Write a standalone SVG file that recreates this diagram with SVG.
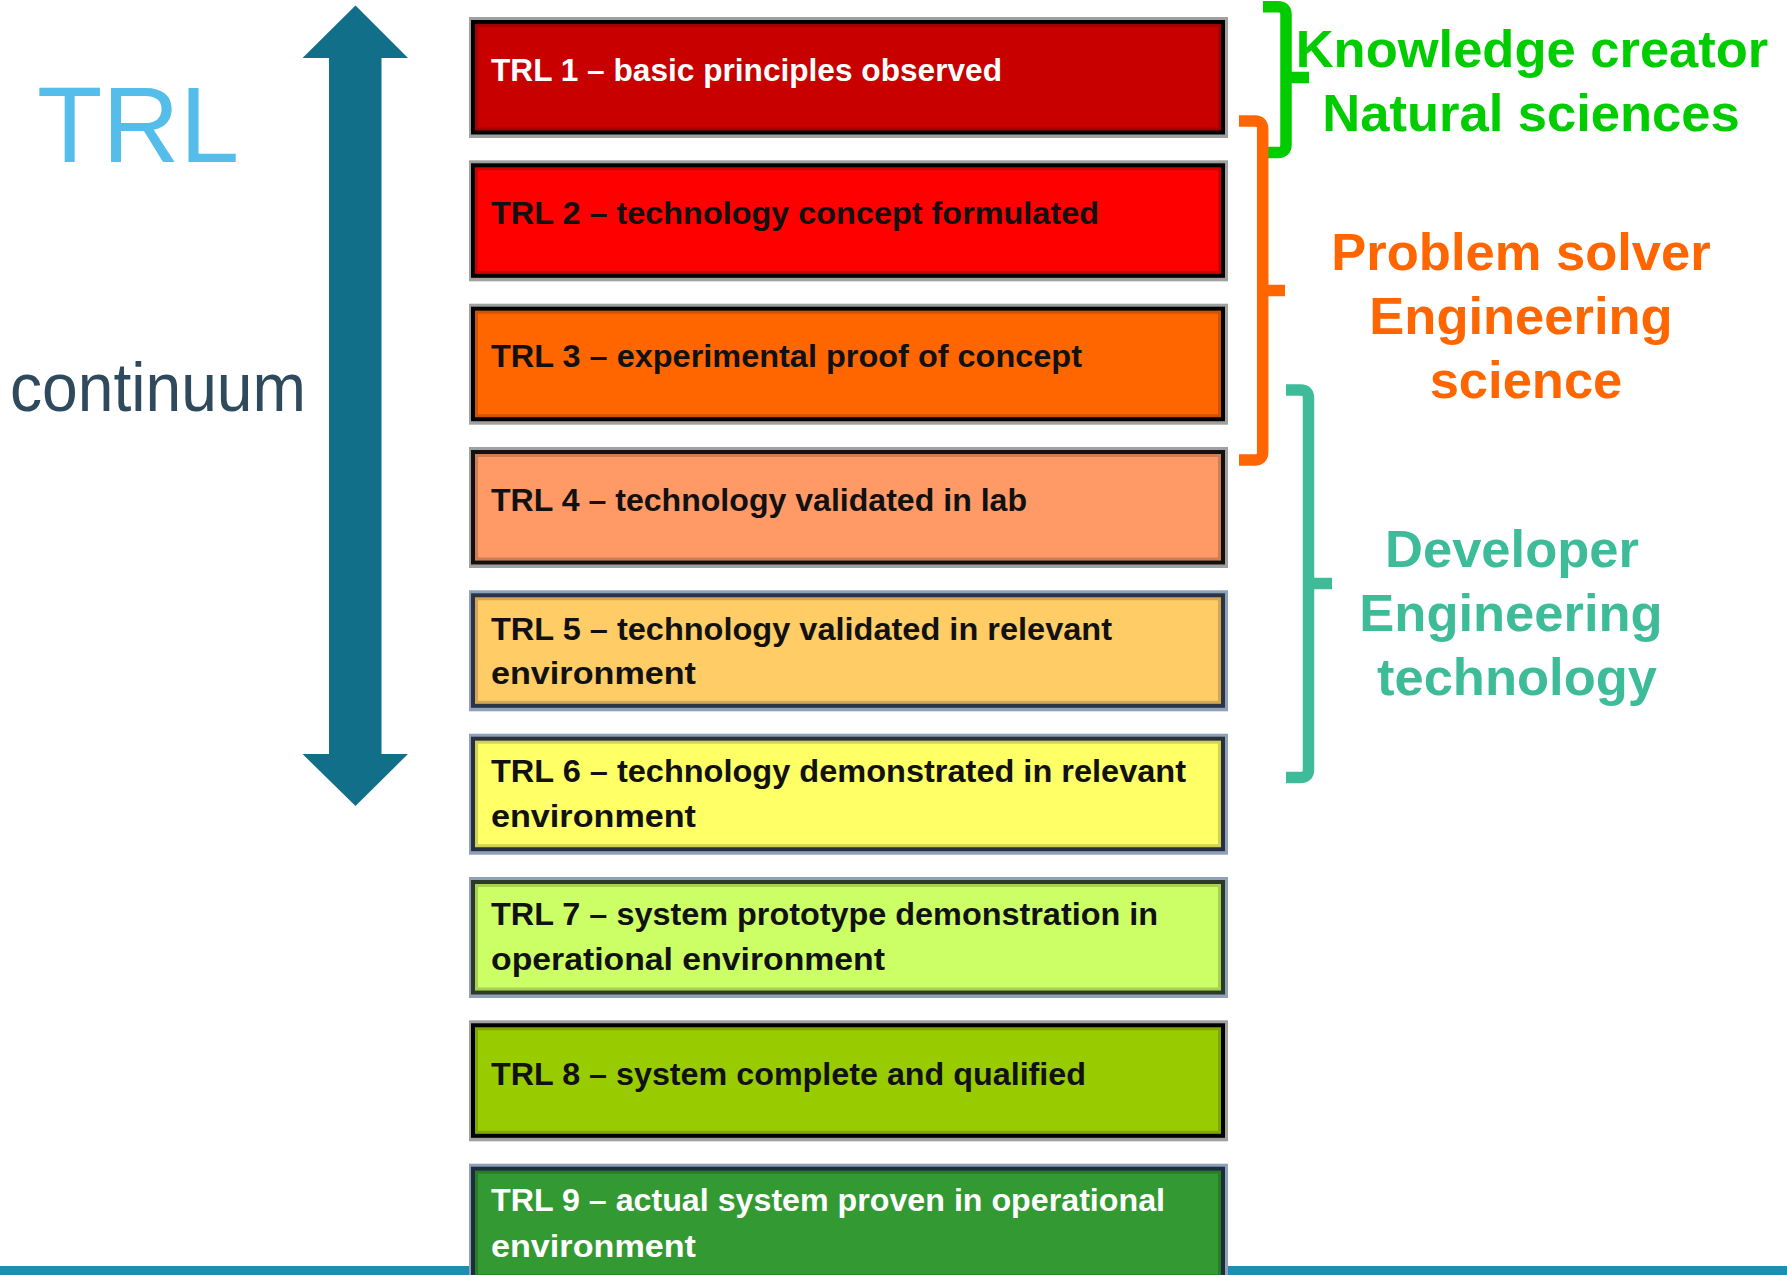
<svg xmlns="http://www.w3.org/2000/svg" width="1787" height="1275" viewBox="0 0 1787 1275">
<style>
.halo-g{fill:#a0a0a0}
.halo-b{fill:#8ea0ba}
.box{stroke-width:4}
.inner{fill:none;stroke:rgba(0,0,0,0.18);stroke-width:3}
.lbl{font-family:"Liberation Sans Narrow","Liberation Sans",Arial,sans-serif;font-weight:bold;font-size:31px}
.dk{fill:#111111}
.wt{fill:#ffffff}
.side{font-family:"Liberation Sans",Arial,sans-serif;font-weight:bold;font-size:52.5px;text-anchor:middle}
.brace{fill:none;stroke-width:11.5;stroke-linecap:butt;stroke-linejoin:round}
</style>
<rect x="0" y="0" width="1787" height="1275" fill="#ffffff"/>

<g id="title">
<text x="37" y="161.7" font-family="'Liberation Sans',Arial,sans-serif" font-size="107" fill="#55bdea">TRL</text>
<text x="10" y="410.7" font-family="'Liberation Sans',Arial,sans-serif" font-size="68" fill="#2f4a5c" textLength="296" lengthAdjust="spacingAndGlyphs">continuum</text>
</g>

<g id="scale-arrow">
<polygon points="355.5,5.5 408,58 381.5,58 381.5,754 408,754 355.5,806 302.5,754 329,754 329,58 302.5,58" fill="#126f8a"/>
</g>

<rect id="bottom-bar" x="0" y="1266" width="1787" height="9" fill="#1e8db3"/>

<g id="trl1">
<rect class="halo-g" x="469" y="17" width="759" height="121"/>
<rect class="box" x="473" y="22" width="750" height="110.5" fill="#c80000" stroke="#000"/>
<rect class="inner" x="476.5" y="25.5" width="743" height="103.5"/>
<text class="lbl wt" x="491" y="80.5" textLength="511" lengthAdjust="spacingAndGlyphs">TRL 1 – basic principles observed</text>
</g>

<g id="trl2">
<rect class="halo-g" x="469" y="160.3" width="759" height="121"/>
<rect class="box" x="473" y="165.3" width="750" height="110.5" fill="#ff0000" stroke="#000"/>
<rect class="inner" x="476.5" y="168.8" width="743" height="103.5"/>
<text class="lbl dk" x="491" y="223.8" textLength="608" lengthAdjust="spacingAndGlyphs">TRL 2 – technology concept formulated</text>
</g>

<g id="trl3">
<rect class="halo-g" x="469" y="303.7" width="759" height="121"/>
<rect class="box" x="473" y="308.7" width="750" height="110.5" fill="#ff6600" stroke="#000"/>
<rect class="inner" x="476.5" y="312.2" width="743" height="103.5"/>
<text class="lbl dk" x="491" y="367.2" textLength="591" lengthAdjust="spacingAndGlyphs">TRL 3 – experimental proof of concept</text>
</g>

<g id="trl4">
<rect class="halo-g" x="469" y="447" width="759" height="121"/>
<rect class="box" x="473" y="452" width="750" height="110.5" fill="#ff9966" stroke="#111"/>
<rect class="inner" x="476.5" y="455.5" width="743" height="103.5"/>
<text class="lbl dk" x="491" y="510.5" textLength="536" lengthAdjust="spacingAndGlyphs">TRL 4 – technology validated in lab</text>
</g>

<g id="trl5">
<rect class="halo-b" x="469" y="590.3" width="759" height="121"/>
<rect class="box" x="473" y="595.3" width="750" height="110.5" fill="#ffcc66" stroke="#2a3445"/>
<rect class="inner" x="476.5" y="598.8" width="743" height="103.5"/>
<text class="lbl dk" x="491" y="639.5" textLength="621" lengthAdjust="spacingAndGlyphs">TRL 5 – technology validated in relevant</text>
<text class="lbl dk" x="491" y="684" textLength="205" lengthAdjust="spacingAndGlyphs">environment</text>
</g>

<g id="trl6">
<rect class="halo-b" x="469" y="733.7" width="759" height="121"/>
<rect class="box" x="473" y="738.7" width="750" height="110.5" fill="#ffff66" stroke="#283040"/>
<rect class="inner" x="476.5" y="742.2" width="743" height="103.5"/>
<text class="lbl dk" x="491" y="782" textLength="695" lengthAdjust="spacingAndGlyphs">TRL 6 – technology demonstrated in relevant</text>
<text class="lbl dk" x="491" y="827" textLength="205" lengthAdjust="spacingAndGlyphs">environment</text>
</g>

<g id="trl7">
<rect class="halo-b" x="469" y="877" width="759" height="121"/>
<rect class="box" x="473" y="882" width="750" height="110.5" fill="#ccff66" stroke="#2c3a2c"/>
<rect class="inner" x="476.5" y="885.5" width="743" height="103.5"/>
<text class="lbl dk" x="491" y="925" textLength="667" lengthAdjust="spacingAndGlyphs">TRL 7 – system prototype demonstration in</text>
<text class="lbl dk" x="491" y="970" textLength="394" lengthAdjust="spacingAndGlyphs">operational environment</text>
</g>

<g id="trl8">
<rect class="halo-g" x="469" y="1020.3" width="759" height="121"/>
<rect class="box" x="473" y="1025.3" width="750" height="110.5" fill="#99cc00" stroke="#000"/>
<rect class="inner" x="476.5" y="1028.8" width="743" height="103.5"/>
<text class="lbl dk" x="491" y="1085" textLength="595" lengthAdjust="spacingAndGlyphs">TRL 8 – system complete and qualified</text>
</g>

<g id="trl9">
<rect class="halo-b" x="469" y="1163.7" width="759" height="121"/>
<rect class="box" x="473" y="1168.7" width="750" height="110.5" fill="#339933" stroke="#1c2e3c"/>
<rect class="inner" x="476.5" y="1172.2" width="743" height="103.5"/>
<text class="lbl wt" x="491" y="1210.5" textLength="674" lengthAdjust="spacingAndGlyphs">TRL 9 – actual system proven in operational</text>
<text class="lbl wt" x="491" y="1256.5" textLength="205" lengthAdjust="spacingAndGlyphs">environment</text>
</g>

<g id="connectors">
<g id="brace-knowledge" stroke="#00cc00">
<path class="brace" d="M1263,6.7 H1278 Q1286,6.7 1286,14.7 V144.5 Q1286,152.5 1278,152.5 H1266"/>
<path class="brace" d="M1286,77.5 H1309"/>
</g>
<g id="brace-problem" stroke="#ff6600">
<path class="brace" d="M1239,121 H1254.7 Q1262.7,121 1262.7,129 V452 Q1262.7,460 1254.7,460 H1239"/>
<path class="brace" d="M1262.7,290.5 H1285"/>
</g>
<g id="brace-developer" stroke="#3ebc9a">
<path class="brace" d="M1286,390 H1300.5 Q1308.5,390 1308.5,398 V769.5 Q1308.5,777.5 1300.5,777.5 H1286"/>
<path class="brace" d="M1308.5,583.5 H1332"/>
</g>
</g>

<g id="role-knowledge" fill="#00cc00">
<text class="side" x="1532" y="66.7" font-size="53">Knowledge creator</text>
<text class="side" x="1531" y="130.7" font-size="53">Natural sciences</text>
</g>

<g id="role-problem" fill="#ff6600">
<text class="side" x="1521" y="270">Problem solver</text>
<text class="side" x="1521" y="334.3">Engineering</text>
<text class="side" x="1526" y="398.3">science</text>
</g>

<g id="role-developer" fill="#3ebc9a">
<text class="side" x="1512" y="567">Developer</text>
<text class="side" x="1511" y="630.7">Engineering</text>
<text class="side" x="1517" y="695">technology</text>
</g>
</svg>
